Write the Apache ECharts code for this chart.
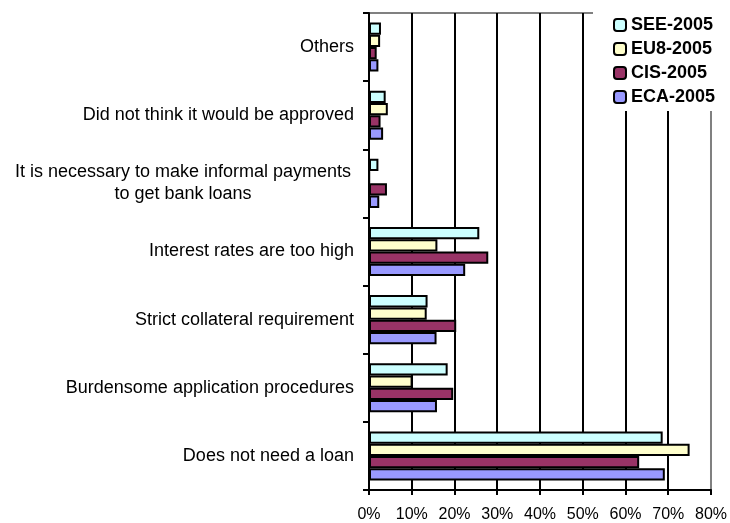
<!DOCTYPE html>
<html>
<head>
<meta charset="utf-8">
<script src="https://cdn.jsdelivr.net/npm/echarts@6/dist/echarts.min.js"></script>
<style>html,body{margin:0;padding:0;background:#fff;}#c{width:730px;height:523px;}</style>
</head>
<body>
<div id="c"></div>
<script>
const categories = [
  'Others',
  'Did not think it would be approved',
  'It is necessary to make informal payments\nto get bank loans',
  'Interest rates are too high',
  'Strict collateral requirement',
  'Burdensome application procedures',
  'Does not need a loan'
];
const seriesNames = ['SEE-2005', 'EU8-2005', 'CIS-2005', 'ECA-2005'];
const see2005 = [2.8, 3.9, 2.2, 25.8, 13.7, 18.4, 68.7];
const eu82005 = [2.6, 4.4, 0.1, 16.0, 13.5, 10.2, 75.0];
const cis2005 = [1.8, 2.7, 4.2, 27.9, 20.4, 19.7, 63.2];
const eca2005 = [2.2, 3.3, 2.4, 22.5, 15.8, 15.9, 69.2];
const xTicks = [0, 10, 20, 30, 40, 50, 60, 70, 80];

const colors = {'SEE-2005': '#CCFFFF', 'EU8-2005': '#FFFFCC', 'CIS-2005': '#993366', 'ECA-2005': '#9999FF'};
const valuesByName = {'SEE-2005': see2005, 'EU8-2005': eu82005, 'CIS-2005': cis2005, 'ECA-2005': eca2005};
const FONT = '"Liberation Sans", Arial, sans-serif';

const chart = echarts.init(document.getElementById('c'), null, {renderer: 'canvas'});
const series = seriesNames.map(n => ({
  name: n,
  type: 'bar',
  data: valuesByName[n],
  barGap: '0%',
  barCategoryGap: '28%',
  itemStyle: {color: colors[n], borderColor: '#000', borderWidth: 2},
  emphasis: {disabled: true}
}));

chart.setOption({
  animation: false,
  grid: {left: 369, right: 17, top: 13, bottom: 32, show: true, borderColor: '#808080', borderWidth: 2, backgroundColor: 'transparent'},
  legend: {
    data: seriesNames,
    orient: 'vertical',
    left: 593, top: 11,
    padding: [5, 8, 5, 20],
    backgroundColor: '#fff',
    itemWidth: 12, itemHeight: 12, itemGap: 6,
    textStyle: {fontFamily: FONT, fontSize: 18, fontWeight: 'bold', color: '#000'}
  },
  xAxis: {
    type: 'value', min: xTicks[0], max: xTicks[xTicks.length - 1], interval: 10,
    axisLine: {show: true, lineStyle: {color: '#000', width: 2}},
    axisTick: {show: true, length: 5, lineStyle: {color: '#000', width: 2}},
    axisLabel: {formatter: '{value}%', fontFamily: FONT, fontSize: 16, color: '#000', margin: 17},
    splitLine: {show: true, lineStyle: {color: ['#000', '#000', '#000', '#000', '#000', '#000', '#000', '#000', '#808080'], width: 2}}
  },
  yAxis: {
    type: 'category', data: categories, inverse: true,
    axisLine: {show: true, lineStyle: {color: '#000', width: 2}},
    axisTick: {show: true, length: 6, lineStyle: {color: '#000', width: 2}},
    axisLabel: {
      fontFamily: FONT, fontSize: 18, color: '#000', margin: 15,
      formatter: function (v) {
        if (v.indexOf('\n') >= 0) {
          return v.split('\n').map(s => '{c|' + s + '}').join('\n');
        }
        return v;
      },
      rich: {c: {fontFamily: FONT, fontSize: 18, color: '#000', width: 342, align: 'center', lineHeight: 22}}
    }
  },
  series: series
});
</script>
</body>
</html>
